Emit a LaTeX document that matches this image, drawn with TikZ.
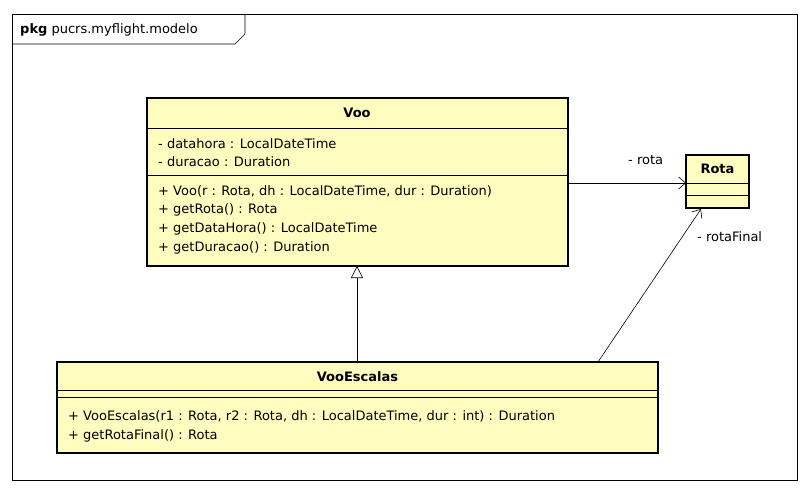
\documentclass[tikz,border=0pt]{standalone}
\usepackage{fontspec}
\setmainfont{DejaVu Sans}
\usetikzlibrary{arrows.meta}
\begin{document}
\begin{tikzpicture}[x=1pt,y=-1pt,
  box/.style={draw=black,line width=1.8pt,fill=yellow!25},
  t/.style={anchor=west,inner sep=0pt,font=\fontsize{13}{15}\selectfont},
  tb/.style={anchor=center,inner sep=0pt,font=\fontsize{13}{15}\selectfont\bfseries},
  sep/.style={draw=black,line width=0.6pt},
  assoc/.style={draw=black,line width=0.6pt,-{Straight Barb[length=7pt,width=12pt]}},
  gen/.style={draw=black,line width=0.6pt,-{Triangle[open,length=12pt,width=12pt,fill=white]}}]
\useasboundingbox (0,0) rectangle (809,492);
\draw[line width=0.6pt] (12,14) rectangle (797,480);
\draw[line width=0.6pt] (12,44) -- (235,44) -- (245,34) -- (245,14);
\node[t] (pkg) at (20,30) {\textbf{pkg} pucrs.myflight.modelo};
% Voo
\path[box] (147,98) rectangle (568,266);
\coordinate (vooN) at (357,98); \coordinate (vooS) at (357,266);
\draw[sep] (147,128) -- (568,128);
\draw[sep] (147,175) -- (568,175);
\node[tb] (voot) at (357,113) {Voo};
\node[t] (a1) at (158,144) {- datahora : LocalDateTime};
\node[t] (a2) at (158,162) {- duracao : Duration};
\node[t] (m1) at (158,191) {+ Voo(r : Rota, dh : LocalDateTime, dur : Duration)};
\node[t] (m2) at (158,210) {+ getRota() : Rota};
\node[t] (m3) at (158,229) {+ getDataHora() : LocalDateTime};
\node[t] (m4) at (158,248) {+ getDuracao() : Duration};
% Rota
\path[box] (686,155) rectangle (749,208);
\draw[sep] (686,183) -- (749,183);
\draw[sep] (686,195) -- (749,195);
\node[tb] (rotat) at (717.5,169) {Rota};
% VooEscalas
\path[box] (57,362) rectangle (658,453);
\draw[sep] (57,390) -- (658,390);
\draw[sep] (57,397) -- (658,397);
\node[tb] (vet) at (357.5,377) {VooEscalas};
\node[t] (e1) at (68,416) {+ VooEscalas(r1 : Rota, r2 : Rota, dh : LocalDateTime, dur : int) : Duration};
\node[t] (e2) at (68,436) {+ getRotaFinal() : Rota};
% connectors
\coordinate (c1) at (568,183); \coordinate (c2) at (686,183);
\draw[assoc] (c1) -- (c2);
\node[t] (l1) at (628,160) {- rota};
\coordinate (c3) at (598,362); \coordinate (c4) at (701,209);
\draw[assoc] (c3) -- (c4);
\node[t] (l2) at (697,237) {- rotaFinal};
\coordinate (g1) at (357,362);
\draw[gen] (g1) -- (vooS);
\end{tikzpicture}
\end{document}
